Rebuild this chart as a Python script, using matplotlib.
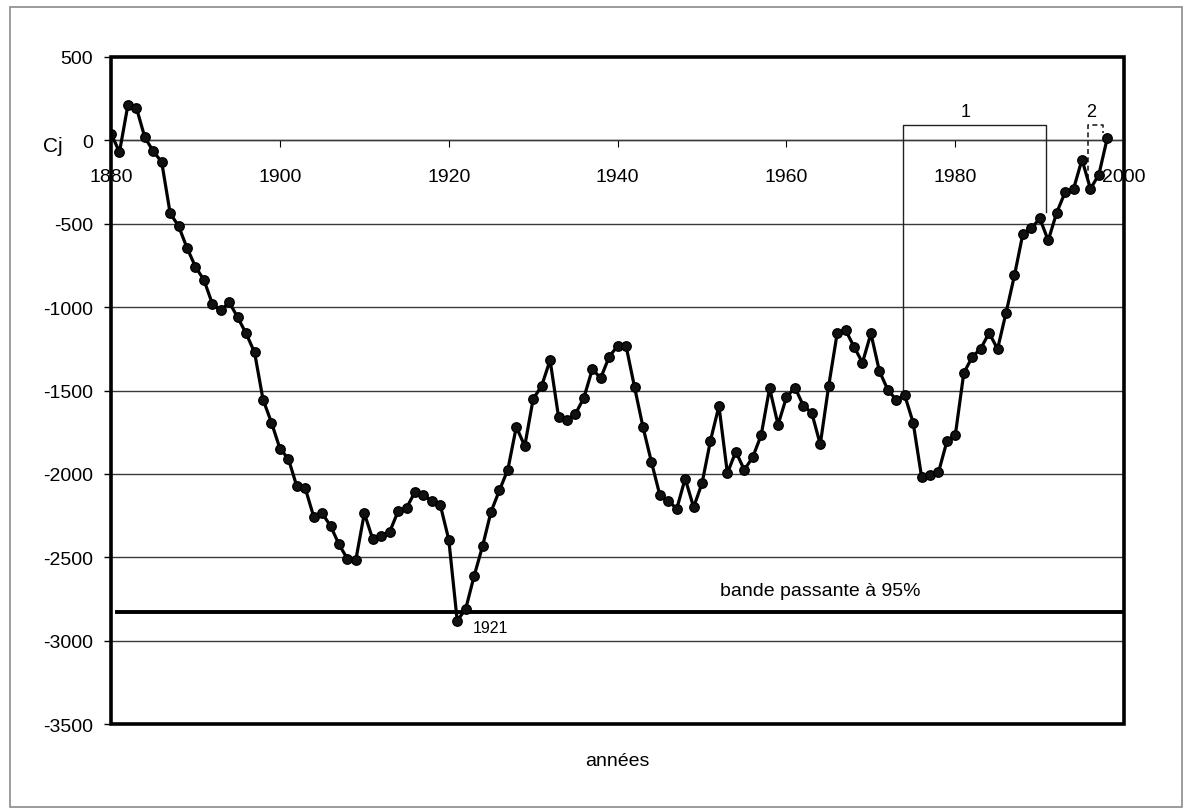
import numpy as np
import matplotlib
matplotlib.use('Agg')
import matplotlib.pyplot as plt
from matplotlib.patches import Rectangle

plt.rcParams['font.family'] = ['Liberation Sans', 'DejaVu Sans']
plt.rcParams['axes.unicode_minus'] = False

## DATA

# cumulative deviation Cj, one value per year from 1880
cj = [40, -70, 212, 196, 18, -65, -130, -437, -514, -645,
      -758, -837, -980, -1020, -970, -1062, -1158, -1272, -1554, -1692,
      -1848, -1909, -2074, -2086, -2256, -2236, -2312, -2423, -2510, -2514,
      -2236, -2392, -2370, -2348, -2224, -2204, -2108, -2124, -2164, -2188,
      -2394, -2880, -2811, -2613, -2434, -2228, -2099, -1974, -1718, -1833,
      -1550, -1473, -1318, -1657, -1675, -1641, -1544, -1373, -1425, -1297,
      -1233, -1233, -1479, -1718, -1928, -2127, -2160, -2210, -2028, -2200,
      -2056, -1800, -1593, -1996, -1866, -1976, -1900, -1768, -1486, -1705,
      -1540, -1482, -1591, -1635, -1823, -1472, -1158, -1138, -1238, -1333,
      -1158, -1383, -1496, -1556, -1528, -1692, -2018, -2008, -1991, -1805,
      -1766, -1395, -1299, -1249, -1155, -1251, -1035, -810, -560, -528,
      -468, -600, -434, -311, -291, -115, -291, -205, 15]
years = np.arange(1880, 1880 + len(cj))

x_ticks = [1880, 1900, 1920, 1940, 1960, 1980, 2000]
y_ticks = [500, 0, -500, -1000, -1500, -2000, -2500, -3000, -3500]

band_95 = -2830   # 95% bandwidth threshold
min_year = 1921

## FIGURE

fig = plt.figure(figsize=(11.85, 8.12), dpi=100)
ax = fig.add_axes([0.0937, 0.1071, 0.855, 0.8215])

# horizontal grid
for v in y_ticks[1:-1]:
    ax.axhline(v, color='#3a3a3a', lw=1.0, zorder=1)

# threshold line
ax.plot([1880.7, 2000], [band_95, band_95], color='black', lw=2.8, zorder=2)
ax.text(1964, -2700, 'bande passante à 95%', fontsize=14, ha='center', va='center')

# series
ax.plot(years, cj, color='black', lw=2.3, marker='o', ms=6.8,
        markerfacecolor='#111111', markeredgecolor='black', zorder=4)

i_min = list(years).index(min_year)
ax.text(min_year + 1.9, cj[i_min] - 40, str(min_year), fontsize=11.5,
        ha='left', va='center')

# bracket 1
ax.plot([1973.8, 1973.8, 1990.7, 1990.7], [-1528, 95, 95, -430],
        color='#222222', lw=1.0, zorder=3)
ax.text(1981.2, 175, '1', fontsize=13, ha='center', va='center')

# bracket 2 (dashed)
ax.plot([1995.7, 1995.7, 1997.5, 1997.5], [-230, 95, 95, 45],
        color='#222222', lw=1.2, ls=(0, (3, 2)), zorder=3)
ax.text(1996.1, 175, '2', fontsize=13, ha='center', va='center')

ax.set_xlim(1880, 2000)
ax.set_ylim(-3500, 500)
ax.set_xticks(x_ticks)
ax.set_yticks(y_ticks)
ax.tick_params(axis='both', labelsize=14)
ax.tick_params(axis='x', direction='out', length=5, width=0.8, pad=15)
ax.tick_params(axis='y', direction='out', length=5, width=1.0, pad=8)

# x axis crosses at 0
for s in ['top', 'left', 'right']:
    ax.spines[s].set_visible(False)
ax.spines['bottom'].set_position(('data', 0))
ax.spines['bottom'].set_color('#3a3a3a')
ax.spines['bottom'].set_linewidth(1.0)

# plot area border
ax.add_patch(Rectangle((0, 0), 1, 1, transform=ax.transAxes, fill=False,
                       ec='black', lw=2.6, clip_on=False, zorder=5))

fig.text(53 / 1185, 1 - 147 / 812, 'Cj', fontsize=15, ha='center', va='center')
fig.text(617 / 1185, 1 - 762 / 812, 'années', fontsize=14, ha='center', va='center')

# outer chart frame
fig.add_artist(Rectangle((10 / 1185, 4 / 812), 1172 / 1185, 800 / 812,
                         transform=fig.transFigure, fill=False,
                         ec='#8a8a8a', lw=1.2))

fig.savefig('out.png', dpi=100)
